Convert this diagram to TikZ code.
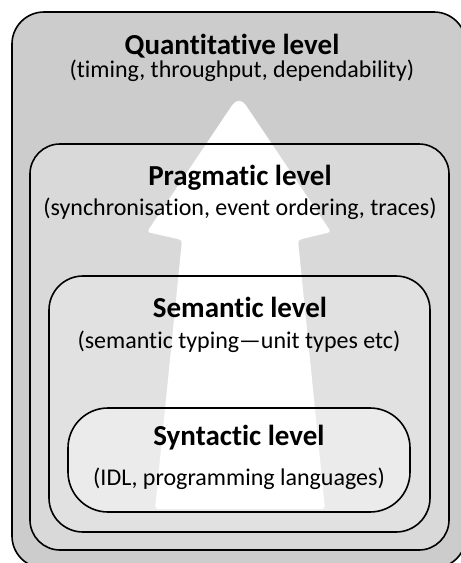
\documentclass[tikz,border=0pt]{standalone}
\usepackage{fontspec}
\setmainfont{Carlito}[Ligatures={NoCommon}]
\definecolor{quantfill}{HTML}{CCCCCC}
\definecolor{pragfill}{HTML}{D9D9D9}
\definecolor{semfill}{HTML}{E1E1E1}
\definecolor{synfill}{HTML}{EBEBEB}
\begin{document}
\begin{tikzpicture}[x=1pt,y=-1pt,
  border/.style={draw=black,line width=1.6pt},
  leveltitle/.style={font=\fontsize{29}{32}\selectfont\bfseries,anchor=base,inner sep=0pt},
  levelsub/.style={font=\fontsize{24}{28}\selectfont,anchor=base,inner sep=0pt}]
\useasboundingbox (0,0) rectangle (461,563);

% nested level boxes: fills first
\fill[quantfill,rounded corners=32] (12,12) rectangle (466,568);
\fill[pragfill,rounded corners=30] (30,144) rectangle (449,550);
\fill[semfill,rounded corners=34] (49,276) rectangle (430,532);
\fill[synfill,rounded corners=40] (68,408) rectangle (410,512);

% upward arrow behind the outlines
\fill[white,rounded corners=3]
  (155,509) -- (182,240) -- (147,232)
  {[rounded corners=12] -- (239,95)}
  -- (331,232) -- (298,240) -- (325,509) -- cycle;

% box outlines
\draw[border,rounded corners=32] (12,12) rectangle (466,568);
\draw[border,rounded corners=30] (30,144) rectangle (449,550);
\draw[border,rounded corners=34] (49,276) rectangle (430,532);
\draw[border,rounded corners=40] (68,408) rectangle (410,512);

% labels
\node[leveltitle] (quant) at (232,54) {Quantitative level};
\node[levelsub] (quantsub) at (242,77) {(timing, throughput, dependability)};
\node[leveltitle] (prag) at (240,185) {Pragmatic level};
\node[levelsub] (pragsub) at (240,215) {(synchronisation, event ordering, traces)};
\node[leveltitle] (sem) at (240,317) {Semantic level};
\node[levelsub] (semsub) at (239,348) {(semantic typing—unit types etc)};
\node[leveltitle] (syn) at (239,445) {Syntactic level};
\node[levelsub] (synsub) at (239,485) {(IDL, programming languages)};
\end{tikzpicture}
\end{document}
